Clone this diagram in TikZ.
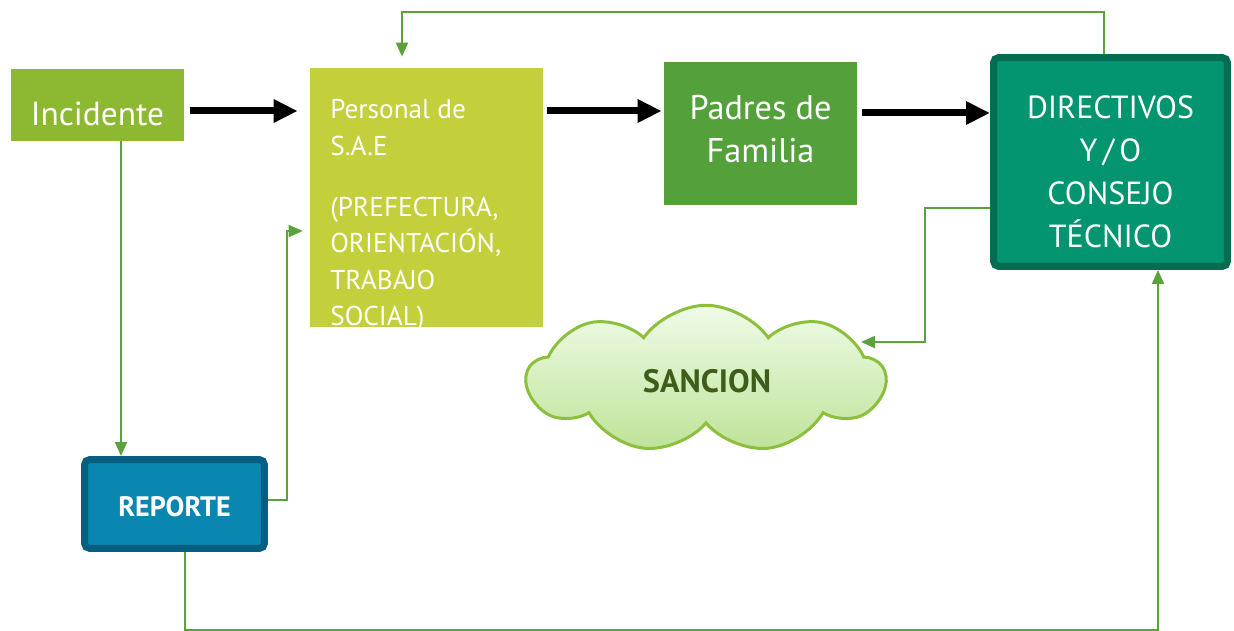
\documentclass[tikz,border=0pt]{standalone}
\usepackage{fontspec}
\setmainfont{PT Sans}
\usepackage{tikz}
\usetikzlibrary{arrows.meta}
\usetikzlibrary{shapes.symbols}

\definecolor{incgreen}{HTML}{8DB832}
\definecolor{saegreen}{HTML}{C3CF3B}
\definecolor{padgreen}{HTML}{54A03A}
\definecolor{dirfill}{HTML}{02956F}
\definecolor{dirline}{HTML}{036D52}
\definecolor{repfill}{HTML}{0A87B0}
\definecolor{repline}{HTML}{065F80}
\definecolor{fbgreen}{HTML}{5AA33C}
\definecolor{cloudtop}{HTML}{F0FBE8}
\definecolor{cloudbot}{HTML}{BEE398}
\definecolor{cloudline}{HTML}{8CBF3C}
\definecolor{sanctext}{HTML}{3E5C1A}

\begin{document}
\begin{tikzpicture}[x=0.02cm,y=-0.02cm]
				\useasboundingbox (0,0) rectangle (1234,631);
				\begin{scope}[every node/.style = {inner sep=0pt, text=white},
					box/.style = {rectangle, minimum width=#1},
					thickbox/.style = {rectangle, rounded corners=3pt, line width=0.14cm}]
					\node[box=3.46cm, fill=incgreen, minimum height=1.44cm] (inc) at (97.5,105) {};
					\node[box=4.66cm, fill=saegreen, minimum height=5.18cm] (sae) at (426.5,197.5) {};
					\node[box=3.86cm, fill=padgreen, minimum height=2.86cm] (pad) at (760.5,133.5) {};
					\node[thickbox, draw=dirline, fill=dirfill, minimum width=4.68cm, minimum height=4.18cm] (dir) at (1110.5,162) {};
					\node[thickbox, draw=repline, fill=repfill, minimum width=3.6cm, minimum height=1.78cm] (rep) at (174.5,504) {};
					\node[cloud, cloud puffs=9, cloud puff arc=110, draw=cloudline, line width=0.06cm, top color=cloudtop, bottom color=cloudbot,
						minimum width=7.16cm, minimum height=2.95cm] (sanc) at (706,379) {};
				\end{scope}
				% texts
				\begin{scope}[every node/.style = {inner sep=0pt, text=white}]
					\node[font=\fontsize{19}{22}\selectfont] (inctext) at (97.5,114) {Incidente};
					\node[anchor=north west, align=left, font=\fontsize{15.5}{20.8}\selectfont] (saetext) at (330,99)
						{Personal de\\S.A.E\\[14pt](PREFECTURA,\\ORIENTACIÓN,\\TRABAJO\\SOCIAL)};
					\node[align=center, font=\fontsize{19.5}{24.4}\selectfont] (padtext) at (760.5,129) {Padres de\\Familia};
					\node[align=center, font=\fontsize{18.2}{24.4}\selectfont] (dirtext) at (1110.5,172) {DIRECTIVOS\\Y\,/\,O\\CONSEJO\\TÉCNICO};
					\node[font=\bfseries\fontsize{16}{19}\selectfont] (reptext) at (174.5,507) {REPORTE};
					\node[text=sanctext, font=\bfseries\fontsize{18.4}{22}\selectfont] (sanctext) at (707,381) {SANCION};
				\end{scope}
				\coordinate (sanctip) at (861,342);
				\begin{scope}[thickarrow/.style = {draw=black, line width=0.14cm, -{Triangle[length=0.48cm, width=0.44cm]}},
						fb/.style = {draw=fbgreen, line width=0.04cm, -{Triangle[length=0.28cm, width=0.24cm]}}]
					\draw[thickarrow, shorten <=3pt, shorten >=0.24cm] (inc.east |- 0,111) -- (sae.west |- 0,111);
					\draw[thickarrow, shorten <=0.08cm, shorten >=0.04cm] (sae.east |- 0,111) -- (pad.west |- 0,111);
					\draw[thickarrow, shorten <=0.1cm] (pad.east |- 0,113) -- (dir.west |- 0,113);
					\draw[fb, shorten >=0.22cm] (dir.north -| 1104,0) -- (1104,12) -| (sae.north -| 402,0);
					\draw[fb] (inc.south -| 121,0) -- (rep.north -| 121,0);
					\draw[fb, shorten >=0.14cm] (rep.east |- 0,500) -| (287,231) -- (sae.west |- 0,231);
					\draw[fb] (rep.south -| 185,0) -- (185,630) -| (dir.south -| 1158,0);
					\draw[fb] (dir.west |- 0,208) -| (925,342) -- (sanctip);
				\end{scope}
			\end{tikzpicture}
\end{document}
